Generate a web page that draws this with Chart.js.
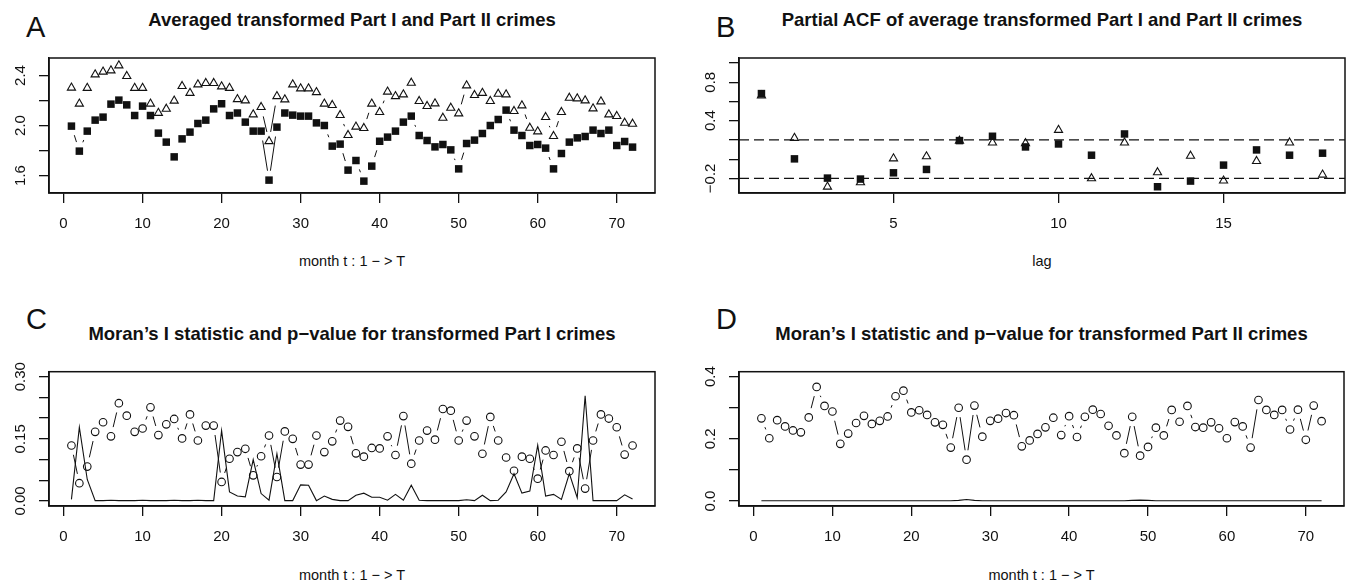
<!DOCTYPE html>
<html><head><meta charset="utf-8">
<script src="https://cdn.jsdelivr.net/npm/chart.js@4.4.0/dist/chart.umd.min.js"></script>
<style>
html,body{margin:0;padding:0;background:#fff;}
body{width:1366px;height:584px;position:relative;overflow:hidden;font-family:"Liberation Sans",Arial,Helvetica,sans-serif;color:#111;}
.box{position:absolute;}
.txt{position:absolute;white-space:nowrap;line-height:1;}
.letter{font-size:29px;}
.title{font-size:18.5px;font-weight:bold;transform:translateX(-50%);}
.xlab{font-size:14.5px;transform:translateX(-50%);}
</style></head><body>
<div class="txt letter" style="left:26px;top:13px;">A</div>
<div class="txt letter" style="left:716px;top:13px;">B</div>
<div class="txt letter" style="left:26px;top:305.3px;">C</div>
<div class="txt letter" style="left:716px;top:305.3px;">D</div>
<div class="txt title" style="left:352px;top:11px;">Averaged transformed Part I and Part II crimes</div>
<div class="txt title" style="left:1042px;top:11px;">Partial ACF of average transformed Part I and Part II crimes</div>
<div class="txt title" style="left:352px;top:324.7px;">Moran’s I statistic and p−value for transformed Part I crimes</div>
<div class="txt title" style="left:1041.5px;top:324.7px;">Moran’s I statistic and p−value for transformed Part II crimes</div>
<div class="txt xlab" style="left:352px;top:254.2px;">month t : 1 − &gt; T</div>
<div class="txt xlab" style="left:1042px;top:254.2px;">lag</div>
<div class="txt xlab" style="left:352px;top:567.9px;">month t : 1 − &gt; T</div>
<div class="txt xlab" style="left:1041.5px;top:567.9px;">month t : 1 − &gt; T</div>

<div class="box" style="left:0;top:0;"><canvas id="cA" width="683" height="292"></canvas></div>
<div class="box" style="left:683px;top:0;"><canvas id="cB" width="683" height="292"></canvas></div>
<div class="box" style="left:0;top:292px;"><canvas id="cC" width="683" height="292"></canvas></div>
<div class="box" style="left:683px;top:292px;"><canvas id="cD" width="683" height="292"></canvas></div>
<script>
// ---------- data ----------
const months = [1,2,3,4,5,6,7,8,9,10,11,12,13,14,15,16,17,18,19,20,21,22,23,24,25,26,27,28,29,30,31,32,33,34,35,36,
  37,38,39,40,41,42,43,44,45,46,47,48,49,50,51,52,53,54,55,56,57,58,59,60,61,62,63,64,65,66,67,68,69,70,71,72];
const avgPartI = [1.995,1.795,1.955,2.043,2.067,2.171,2.203,2.165,2.08,2.155,2.08,1.939,1.867,1.749,1.893,1.947,2.016,2.043,
  2.133,2.174,2.08,2.10,2.027,1.955,1.955,1.563,1.987,2.10,2.083,2.075,2.075,2.021,2.0,1.835,1.851,1.643,1.72,1.555,
  1.675,1.874,1.907,1.955,2.027,2.075,1.92,1.88,1.829,1.848,1.805,1.653,1.856,1.883,1.936,2.0,2.048,2.123,1.963,1.92,
  1.84,1.848,1.819,1.653,1.776,1.867,1.901,1.912,1.963,1.936,1.963,1.84,1.872,1.827];
const avgPartII = [2.302,2.174,2.30,2.408,2.43,2.44,2.48,2.395,2.30,2.30,2.174,2.10,2.133,2.198,2.315,2.26,2.328,2.339,
  2.339,2.312,2.30,2.21,2.20,2.088,2.147,1.874,2.234,2.208,2.328,2.296,2.296,2.266,2.174,2.163,2.083,1.923,1.99,1.979,
  2.174,2.107,2.27,2.234,2.248,2.341,2.195,2.155,2.176,2.061,2.141,2.096,2.32,2.243,2.26,2.195,2.253,2.248,2.115,2.16,
  1.981,1.952,2.067,1.915,2.107,2.221,2.216,2.2,2.136,2.192,2.088,2.075,2.021,2.013];
const lags = [1,2,3,4,5,6,7,8,9,10,11,12,13,14,15,16,17,18];
const pacfPartI = [0.682,0.003,-0.197,-0.207,-0.142,-0.107,0.193,0.238,0.127,0.158,0.041,0.262,-0.287,-0.228,-0.062,0.096,0.041,0.062];
const pacfPartII = [0.662,0.22,-0.287,-0.241,0.007,0.028,0.19,0.172,0.165,0.303,-0.2,0.172,-0.138,0.034,-0.224,-0.021,0.172,-0.162];
const pacfBounds = [0.2,-0.2];
const moranPartI = [0.134,0.043,0.083,0.167,0.19,0.156,0.236,0.206,0.167,0.175,0.226,0.159,0.185,0.198,0.151,0.209,0.146,0.182,
  0.182,0.046,0.102,0.118,0.126,0.062,0.108,0.158,0.058,0.168,0.15,0.088,0.088,0.158,0.118,0.144,0.194,0.179,0.115,0.107,
  0.128,0.127,0.156,0.111,0.205,0.09,0.146,0.17,0.148,0.222,0.218,0.146,0.194,0.156,0.114,0.203,0.146,0.105,0.073,0.107,
  0.102,0.054,0.122,0.111,0.143,0.072,0.127,0.03,0.146,0.209,0.199,0.178,0.112,0.134];
const pvalPartI = [0.004,0.178,0.052,0.001,0.001,0.002,0.001,0.001,0.001,0.002,0.001,0.001,0.001,0.002,0.001,0.001,0.002,0.001,
  0.001,0.17,0.022,0.012,0.01,0.1,0.018,0.002,0.114,0.001,0.001,0.039,0.038,0.001,0.012,0.004,0.001,0.001,0.014,0.019,
  0.009,0.009,0.002,0.016,0.002,0.038,0.002,0.001,0.001,0.001,0.001,0.001,0.003,0.001,0.014,0.001,0.002,0.022,0.066,0.019,
  0.024,0.135,0.012,0.016,0.004,0.066,0.008,0.254,0.001,0.001,0.001,0.001,0.015,0.005];
const moranPartII = [0.266,0.202,0.26,0.24,0.227,0.221,0.269,0.367,0.306,0.288,0.184,0.217,0.251,0.274,0.248,0.258,0.272,0.337,
  0.355,0.285,0.292,0.277,0.253,0.245,0.172,0.3,0.133,0.307,0.207,0.258,0.265,0.283,0.276,0.176,0.195,0.216,0.237,0.268,
  0.212,0.273,0.206,0.271,0.294,0.28,0.242,0.211,0.154,0.271,0.146,0.174,0.236,0.211,0.293,0.255,0.306,0.238,0.236,0.253,
  0.234,0.202,0.254,0.24,0.172,0.325,0.293,0.277,0.293,0.23,0.294,0.197,0.307,0.257];
const pvalPartII = [0.001,0.001,0.001,0.001,0.001,0.001,0.001,0.001,0.001,0.001,0.001,0.001,0.001,0.001,0.001,0.001,0.001,0.001,
  0.001,0.001,0.001,0.001,0.001,0.001,0.001,0.002,0.005,0.002,0.001,0.001,0.001,0.001,0.001,0.001,0.001,0.001,0.001,0.001,
  0.001,0.001,0.001,0.001,0.001,0.001,0.001,0.001,0.001,0.002,0.003,0.002,0.001,0.001,0.001,0.001,0.001,0.001,0.001,0.001,
  0.001,0.001,0.001,0.001,0.001,0.001,0.001,0.001,0.001,0.001,0.001,0.001,0.001,0.001];
const monthTicks = [0,10,20,30,40,50,60,70];
const lagTicks = [5,10,15];
const yTicksA = [1.6,1.8,2.0,2.2,2.4];  const yLabA = ['1.6','2.0','2.4'];
const yTicksB = [-0.2,0,0.2,0.4,0.6,0.8,1.0]; const yLabB = ['−0.2','0.4','0.8'];
const yTicksC = [0,0.05,0.1,0.15,0.2,0.25,0.3]; const yLabC = ['0.00','0.15','0.30'];
const yTicksD = [0,0.1,0.2,0.3,0.4]; const yLabD = ['0.0','0.2','0.4'];

// ---------- helpers ----------
const INK = '#111';
const FONT = '"Liberation Sans", Arial, Helvetica, sans-serif';
Chart.defaults.font.family = FONT;
Chart.defaults.font.size = 15;
Chart.defaults.color = INK;
Chart.defaults.animation = false;

const pairs = (xs, ys) => xs.map((x, i) => ({x: x, y: ys[i]}));

const frame = {
  id: 'frame',
  afterDraw(chart) {
    const a = chart.chartArea, ctx = chart.ctx;
    ctx.save(); ctx.strokeStyle = INK; ctx.lineWidth = 1.5;
    ctx.strokeRect(a.left, a.top, a.right - a.left, a.bottom - a.top);
    ctx.restore();
  }
};
const gapLines = {
  id: 'gapLines',
  beforeDatasetsDraw(chart) {
    const ctx = chart.ctx, a = chart.chartArea;
    ctx.save();
    ctx.beginPath(); ctx.rect(a.left, a.top, a.right - a.left, a.bottom - a.top); ctx.clip();
    chart.data.datasets.forEach((ds, di) => {
      if (!ds.gapLine) return;
      const pts = chart.getDatasetMeta(di).data, g = ds.gapLine;
      ctx.strokeStyle = INK; ctx.lineWidth = 1;
      ctx.beginPath();
      for (let i = 1; i < pts.length; i++) {
        const p = pts[i - 1], q = pts[i];
        const dx = q.x - p.x, dy = q.y - p.y, L = Math.hypot(dx, dy);
        if (L > 2 * g + 1) {
          const ux = dx / L, uy = dy / L;
          ctx.moveTo(p.x + ux * g, p.y + uy * g);
          ctx.lineTo(q.x - ux * g, q.y - uy * g);
        }
      }
      ctx.stroke();
    });
    ctx.restore();
  }
};
function yLabelPlugin(vals) {
  return {
    id: 'yLabels',
    afterDraw(chart) {
      const s = chart.scales.y, ctx = chart.ctx;
      ctx.save(); ctx.fillStyle = INK; ctx.font = '15px ' + FONT;
      ctx.textAlign = 'center'; ctx.textBaseline = 'alphabetic';
      vals.forEach(t => {
        const v = parseFloat(t.replace('−', '-'));
        const y = s.getPixelForValue(v);
        ctx.save(); ctx.translate(chart.chartArea.left - 24, y); ctx.rotate(-Math.PI / 2);
        ctx.fillText(t, 0, 0); ctx.restore();
      });
      ctx.restore();
    }
  };
}
function hlinePlugin(vals) {
  return {
    id: 'hlines',
    beforeDatasetsDraw(chart) {
      const s = chart.scales.y, a = chart.chartArea, ctx = chart.ctx;
      ctx.save(); ctx.strokeStyle = INK; ctx.lineWidth = 1.2; ctx.setLineDash([10, 5]);
      vals.forEach(v => {
        const y = s.getPixelForValue(v);
        ctx.beginPath(); ctx.moveTo(a.left, y); ctx.lineTo(a.right, y); ctx.stroke();
      });
      ctx.restore();
    }
  };
}
function setTicks(arr) { return s => { s.ticks = arr.map(v => ({value: v})); }; }

function makeChart(id, datasets, o) {
  return new Chart(document.getElementById(id), {
    type: 'scatter',
    data: {datasets: datasets},
    options: {
      responsive: false,
      animation: false,
      layout: {padding: {top: o.top, right: o.right, left: 0, bottom: 0}},
      plugins: {legend: {display: false}, tooltip: {enabled: false}, title: {display: false}},
      scales: {
        x: {
          type: 'linear', min: o.xmin, max: o.xmax,
          afterBuildTicks: setTicks(o.xticks),
          afterFit: s => { s.height = o.xh; },
          ticks: {autoSkip: false, maxRotation: 0, minRotation: 0, padding: 11.5, color: INK, font: {size: 15}},
          grid: {drawOnChartArea: false, drawTicks: true, tickLength: 10, color: INK, lineWidth: 1.3},
          border: {display: true, color: INK, width: 1.5}
        },
        y: {
          type: 'linear', min: o.ymin, max: o.ymax,
          afterBuildTicks: setTicks(o.yticks),
          afterFit: s => { s.width = o.yw; },
          ticks: {display: false},
          grid: {drawOnChartArea: false, drawTicks: true, tickLength: 10, color: INK, lineWidth: 1.3},
          border: {display: true, color: INK, width: 1.5}
        }
      }
    },
    plugins: [frame, gapLines, yLabelPlugin(o.ylabels)].concat(o.extra || [])
  });
}

const sq = {pointStyle: 'rect', pointRadius: 5.3, pointBackgroundColor: INK, pointBorderColor: INK, pointBorderWidth: 0, showLine: false};
const tri = {pointStyle: 'triangle', pointRadius: 4.7, pointBackgroundColor: 'rgba(0,0,0,0)', pointBorderColor: INK, pointBorderWidth: 1.1, showLine: false};
const circ = {pointStyle: 'circle', pointRadius: 3.8, pointBackgroundColor: 'rgba(0,0,0,0)', pointBorderColor: INK, pointBorderWidth: 1.1, showLine: false};
const plain = {showLine: true, pointRadius: 0, borderColor: INK, borderWidth: 1.1, tension: 0, fill: false};

// Panel A
makeChart('cA', [
  Object.assign({label: 'Part I', data: pairs(months, avgPartI), gapLine: 9.5}, sq),
  Object.assign({label: 'Part II', data: pairs(months, avgPartII), gapLine: 9.5}, tri)
], {top: 58, right: 28, xh: 99, yw: 49, xmin: -1.84, xmax: 74.84, ymin: 1.46, ymax: 2.54,
    xticks: monthTicks, yticks: yTicksA, ylabels: yLabA});

// Panel B
makeChart('cB', [
  Object.assign({label: 'Part I', data: pairs(lags, pacfPartI)}, sq),
  Object.assign({label: 'Part II', data: pairs(lags, pacfPartII)}, tri)
], {top: 58, right: 21, xh: 99, yw: 56, xmin: 0.32, xmax: 18.68, ymin: -0.352, ymax: 1.052,
    xticks: lagTicks, yticks: yTicksB, ylabels: yLabB, extra: [hlinePlugin(pacfBounds)]});

// Panel C
makeChart('cC', [
  Object.assign({label: 'p-value', data: pairs(months, pvalPartI)}, plain),
  Object.assign({label: "Moran's I", data: pairs(months, moranPartI), gapLine: 9.5}, circ)
], {top: 79.7, right: 28, xh: 78, yw: 49, xmin: -1.84, xmax: 74.84, ymin: -0.012, ymax: 0.312,
    xticks: monthTicks, yticks: yTicksC, ylabels: yLabC});

// Panel D
makeChart('cD', [
  Object.assign({label: 'p-value', data: pairs(months, pvalPartII)}, plain),
  Object.assign({label: "Moran's I", data: pairs(months, moranPartII), gapLine: 9.5}, circ)
], {top: 79.7, right: 22, xh: 78, yw: 56, xmin: -1.84, xmax: 74.84, ymin: -0.016, ymax: 0.416,
    xticks: monthTicks, yticks: yTicksD, ylabels: yLabD});
</script>
</body></html>
